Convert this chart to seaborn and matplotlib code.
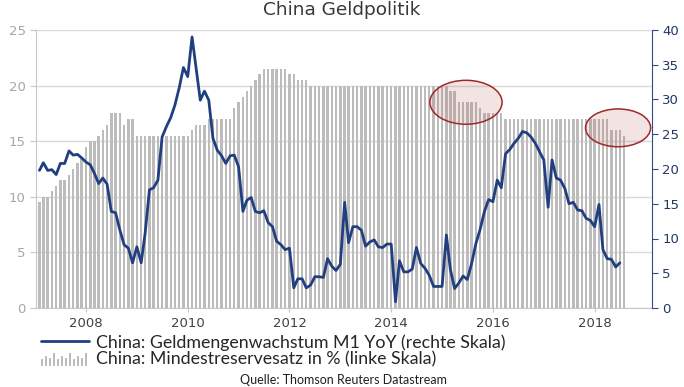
import numpy as np
import pandas as pd
import matplotlib
matplotlib.use("Agg")
import matplotlib.pyplot as plt
import seaborn as sns
from matplotlib.patches import Ellipse, Rectangle
from matplotlib.lines import Line2D
from matplotlib.legend_handler import HandlerBase

# Mindestreservesatz (%), monthly Jan 2007 - Jul 2018 (left axis)
rrr = [9.5, 10, 10, 10.5, 11, 11.5, 11.5, 12, 12.5, 13, 13.5, 14.5,
       15, 15, 15.5, 16, 16.5, 17.5, 17.5, 17.5, 16.5, 17, 17, 15.5,
       15.5, 15.5, 15.5, 15.5, 15.5, 15.5, 15.5, 15.5, 15.5, 15.5, 15.5, 15.5,
       16, 16.5, 16.5, 16.5, 17, 17, 17, 17, 17, 17, 18, 18.5,
       19, 19.5, 20, 20.5, 21, 21.5, 21.5, 21.5, 21.5, 21.5, 21.5, 21,
       21, 20.5, 20.5, 20.5, 20, 20, 20, 20, 20, 20, 20, 20,
       20, 20, 20, 20, 20, 20, 20, 20, 20, 20, 20, 20,
       20, 20, 20, 20, 20, 20, 20, 20, 20, 20, 20, 20,
       20, 19.5, 19.5, 18.5, 18.5, 18.5, 18.5, 18.5, 18, 17.5, 17.5, 17.5,
       17.5, 17.5, 17, 17, 17, 17, 17, 17, 17, 17, 17, 17,
       17, 17, 17, 17, 17, 17, 17, 17, 17, 17, 17, 17,
       17, 17, 17, 16, 16, 16, 15.5]

# Geldmengenwachstum M1 YoY (%), monthly Jan 2007 - Jun 2018 (right axis)
m1 = [19.8, 20.9, 19.8, 19.9, 19.2, 20.8, 20.8, 22.6, 22.0, 22.1, 21.6, 21.0,
      20.6, 19.4, 17.9, 18.7, 17.8, 13.9, 13.7, 11.2, 9.1, 8.6, 6.5, 8.8,
      6.5, 10.7, 17.0, 17.3, 18.4, 24.6, 26.1, 27.4, 29.2, 31.7, 34.6, 33.3,
      39.0, 34.7, 29.9, 31.2, 29.9, 24.4, 22.7, 21.9, 20.8, 21.9, 22.0, 20.3,
      13.9, 15.5, 15.9, 13.9, 13.7, 14.0, 12.3, 11.7, 9.6, 9.1, 8.4, 8.6,
      2.9, 4.2, 4.2, 2.9, 3.3, 4.5, 4.5, 4.4, 7.1, 6.0, 5.4, 6.3,
      15.2, 9.4, 11.7, 11.7, 11.2, 8.9, 9.5, 9.8, 8.8, 8.7, 9.2, 9.2,
      0.9, 6.8, 5.2, 5.2, 5.6, 8.7, 6.4, 5.7, 4.7, 3.1, 3.1, 3.1,
      10.5, 5.6, 2.8, 3.6, 4.6, 4.1, 6.4, 9.3, 11.3, 13.9, 15.6, 15.3,
      18.4, 17.3, 22.2, 22.8, 23.7, 24.4, 25.4, 25.2, 24.6, 23.7, 22.5, 21.3,
      14.5, 21.3, 18.7, 18.4, 17.2, 15.0, 15.2, 14.1, 14.0, 12.9, 12.6, 11.7,
      14.9, 8.4, 7.1, 7.0, 5.9, 6.5]

year_ticks = [2008, 2010, 2012, 2014, 2016, 2018]
label_m1 = "China: Geldmengenwachstum M1 YoY (rechte Skala)"
label_rrr = "China: Mindestreservesatz in % (linke Skala)"

# month-end dates -> decimal years
dates = pd.date_range("2007-01-31", periods=len(rrr), freq="ME")
xs = dates.year + dates.dayofyear / np.where(dates.is_leap_year, 366, 365)
df_bar = pd.DataFrame({"x": xs, "rrr": rrr})
df_line = pd.DataFrame({"x": xs[:len(m1)], "m1": m1})

BLUE = "#213F80"
GREY_BAR = "#BCBCBC"

sns.set_style("white")
plt.rcParams["font.family"] = ["DejaVu Sans"]

fig = plt.figure(figsize=(6.84, 3.87), dpi=100)
ax = fig.add_axes([36 / 684, 1 - 308 / 387, 616 / 684, 278 / 387])

sns.barplot(data=df_bar, x="x", y="rrr", native_scale=True, width=0.62,
            color=GREY_BAR, saturation=1, ax=ax, linewidth=0)
ax.set_xlim(2007.017, 2019.127)
ax.set_ylim(0, 25)
ax.set_yticks(range(0, 26, 5))
ax.set_xticks(year_ticks)
ax.set_xticklabels([str(y) for y in year_ticks])
ax.yaxis.grid(True, color="#D9D9D9", linewidth=1)
ax.set_axisbelow(True)
ax.set_xlabel("")
ax.set_ylabel("")
for s in ["top", "right"]:
    ax.spines[s].set_visible(False)
for s in ["left", "bottom"]:
    ax.spines[s].set_color("#C8C8C8")
ax.tick_params(axis="y", colors="#C8C8C8", labelcolor="#A6A6A6",
               labelsize=9.5, length=4, direction="out", left=True)
ax.tick_params(axis="x", colors="#C8C8C8", labelcolor="#404040",
               labelsize=9.5, length=3, direction="out", bottom=True)

# highlight ellipses
for cx, cy, w, h in [(2015.47, 18.5, 1.42, 3.95), (2018.46, 16.2, 1.28, 3.4)]:
    ax.add_patch(Ellipse((cx, cy), w, h, facecolor=(0.75, 0.42, 0.42, 0.18),
                         edgecolor="#A0282A", linewidth=1.1, zorder=5))

ax2 = ax.twinx()
sns.lineplot(data=df_line, x="x", y="m1", color=BLUE, linewidth=2, ax=ax2)
ax2.set_ylim(0, 40)
ax2.set_yticks(range(0, 41, 5))
ax2.set_xlim(2007.017, 2019.127)
ax2.set_xlabel("")
ax2.set_ylabel("")
for s in ["top", "left", "bottom"]:
    ax2.spines[s].set_visible(False)
ax2.spines["right"].set_color("#2E4A8B")
ax2.tick_params(axis="y", colors="#2E4A8B", labelcolor="#203864",
                labelsize=9.5, length=4, direction="out", right=True)

fig.text(0.5, 1 - 10 / 387, "China Geldpolitik", ha="center", va="center",
         fontsize=13.3, color="#383838")


class BarSampleHandler(HandlerBase):
    def create_artists(self, legend, orig_handle, xdescent, ydescent,
                       width, height, fontsize, trans):
        hs = [0.45, 0.7, 0.55, 0.85, 0.45, 0.7, 0.55, 0.85, 0.45, 0.7, 0.55, 0.85]
        step = width / len(hs)
        out = []
        for k, hh in enumerate(hs):
            out.append(Rectangle((-xdescent + k * step, -ydescent - 1),
                                 step * 0.5, height * hh * 1.2,
                                 facecolor=GREY_BAR, edgecolor="none",
                                 transform=trans))
        return out


line_handle = Line2D([], [], color=BLUE, linewidth=2)
bar_handle = Rectangle((0, 0), 1, 1, color=GREY_BAR)
fig.legend([line_handle, bar_handle], [label_m1, label_rrr],
           loc="upper left", bbox_to_anchor=(41 / 684, 1 - 334 / 387),
           frameon=False, borderpad=0, borderaxespad=0,
           handlelength=2.7, handletextpad=0.42, labelspacing=0.05,
           prop={"family": "Lato", "size": 12.8},
           handler_map={bar_handle: BarSampleHandler()})

fig.text(343 / 684, 1 - 380 / 387, "Quelle: Thomson Reuters Datastream",
         ha="center", va="center", fontsize=9, family="Lato", color="#202020")

plt.savefig("out.png", dpi=100)
